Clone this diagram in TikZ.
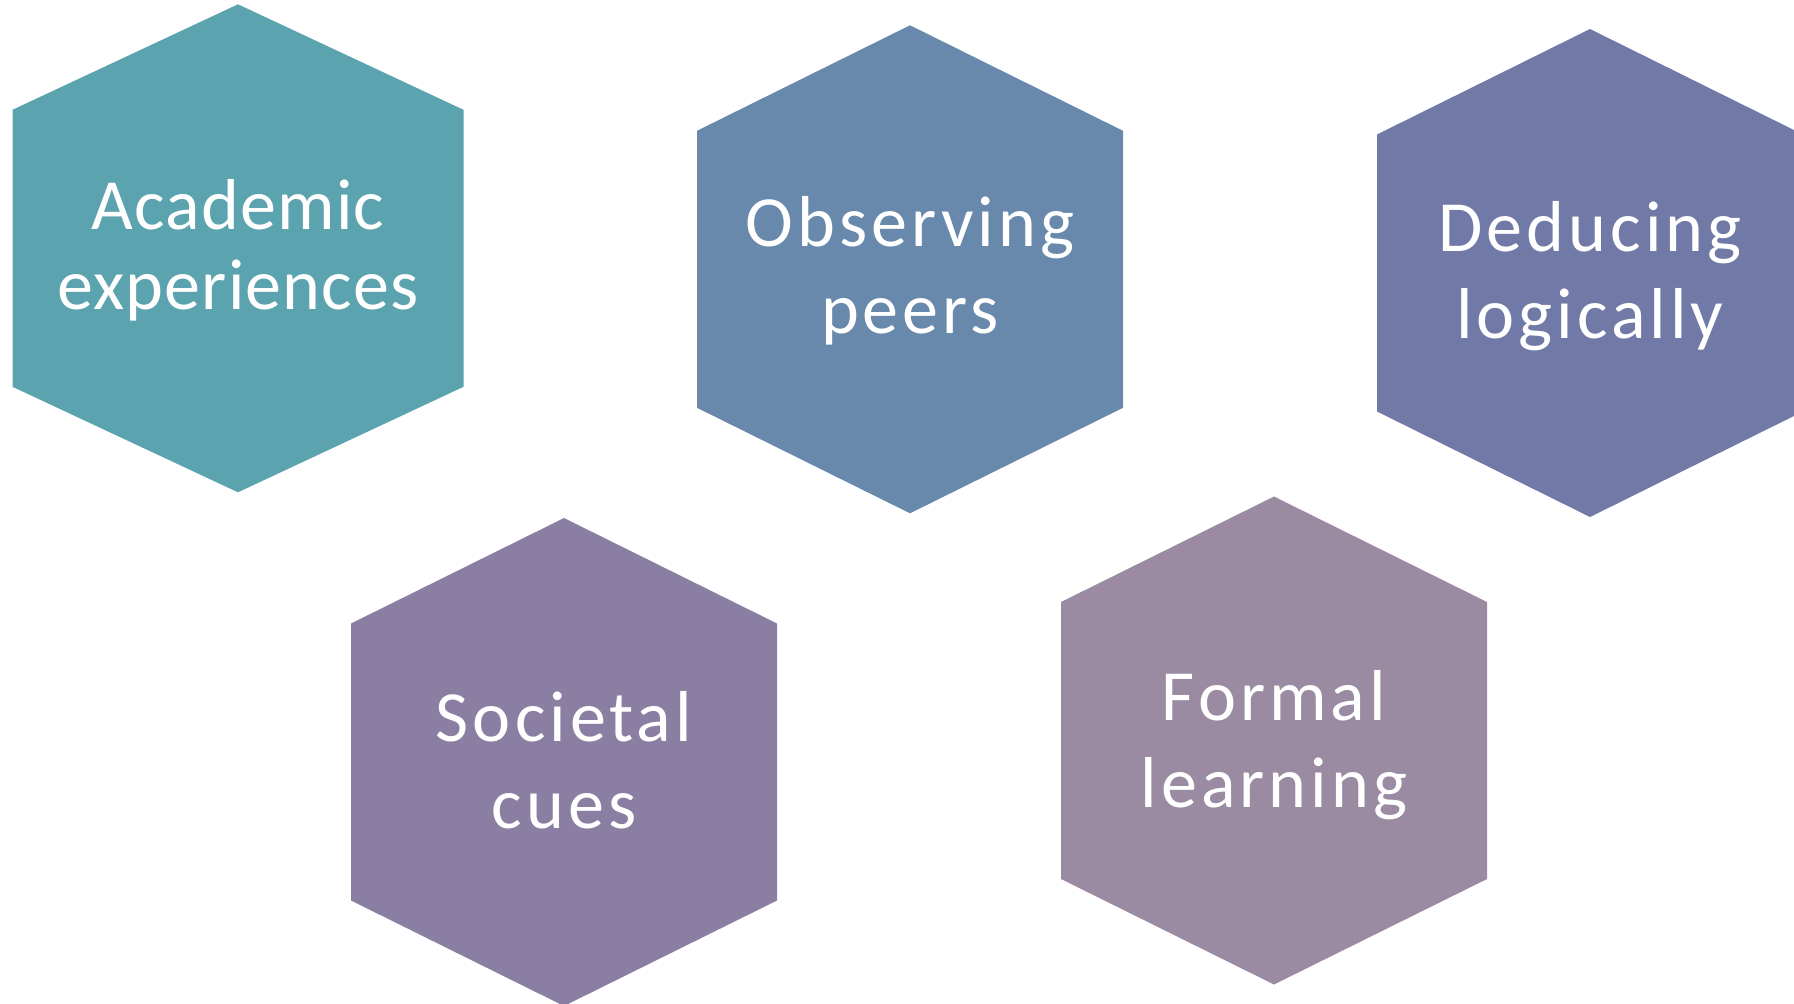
\documentclass[tikz,border=0pt]{standalone}
\usepackage{fontspec}
\setmainfont{Carlito}
\usepackage{xcolor}
\usepackage{tikz}

\definecolor{hexteal}{RGB}{91,163,174}
\definecolor{hexsteel}{RGB}{104,137,171}
\definecolor{hexindigo}{RGB}{113,121,166}
\definecolor{hexlilac}{RGB}{138,127,162}
\definecolor{hexmauve}{RGB}{154,139,163}

\begin{document}
\begin{tikzpicture}[
  x=0.01cm, y=-0.01cm,
  lbl/.style={text=white, align=center, inner sep=0pt, font=\fontsize{20.5}{24.7}\selectfont\addfontfeatures{LetterSpace=5.6}},
  tight/.style={font=\fontsize{20.5}{22.8}\selectfont\addfontfeatures{LetterSpace=1.6}}
]
\useasboundingbox (0,0) rectangle (1794,1003);
\clip (0,0) rectangle (1794,1003);

% hexagons, centre given by the shift
\fill[hexteal, shift={(238,248.3)}] (0,-244) -- (225.5,-138.5) -- (225.5,138.5) -- (0,244) -- (-225.5,138.5) -- (-225.5,-138.5) -- cycle;
\fill[hexsteel, shift={(910,269.3)}] (0,-244) -- (213,-138.5) -- (213,138.5) -- (0,244) -- (-213,138.5) -- (-213,-138.5) -- cycle;
\fill[hexindigo, shift={(1590,273)}] (0,-244) -- (213,-138.5) -- (213,138.5) -- (0,244) -- (-213,138.5) -- (-213,-138.5) -- cycle;
\fill[hexlilac, shift={(564,762)}] (0,-244) -- (213,-138.5) -- (213,138.5) -- (0,244) -- (-213,138.5) -- (-213,-138.5) -- cycle;
\fill[hexmauve, shift={(1274,740.5)}] (0,-244) -- (213,-138.5) -- (213,138.5) -- (0,244) -- (-213,138.5) -- (-213,-138.5) -- cycle;

% labels
\node[lbl, tight] (academic) at (238,250) {Academic\\experiences};
\node[lbl] (peers) at (910,271) {Observing\\peers};
\node[lbl] (deducing) at (1590,276) {Deducing\\logically};
\node[lbl] (societal) at (564,760) {Societal\\cues};
\node[lbl] (formal) at (1274,745) {Formal\\learning};
\end{tikzpicture}
\end{document}
